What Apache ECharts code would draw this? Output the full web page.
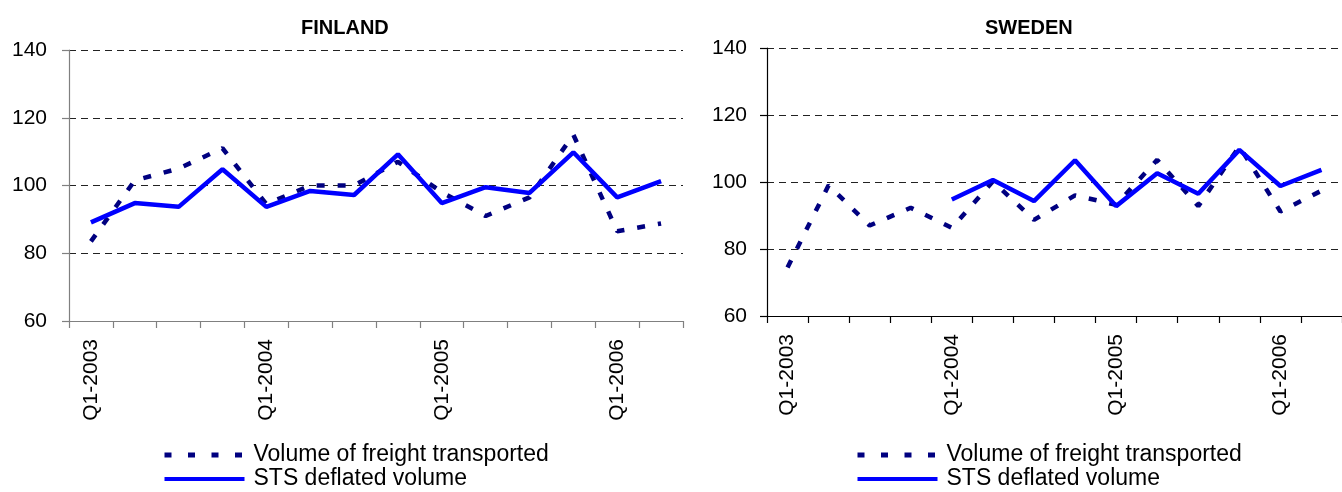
<!DOCTYPE html>
<html>
<head>
<meta charset="utf-8">
<script src="https://cdn.jsdelivr.net/npm/echarts@6/dist/echarts.min.js"></script>
<style>
html,body{margin:0;padding:0;background:#fff;}
#c{width:1342px;height:492px;}
</style>
</head>
<body>
<div id="c"></div>
<script>
var categories = ['Q1-2003','Q2-2003','Q3-2003','Q4-2003','Q1-2004','Q2-2004','Q3-2004','Q4-2004','Q1-2005','Q2-2005','Q3-2005','Q4-2005','Q1-2006','Q2-2006'];
var finFreight = [83.5, 101.5, 105, 111, 94.5, 100, 100, 107, 98, 91, 96.5, 115, 86.5, 88.8];
var finSTS = [89.1, 94.8, 93.7, 104.8, 93.7, 98.4, 97.2, 109.2, 94.8, 99.5, 97.8, 109.8, 96.5, 101.3];
var sweFreight = [74.5, 99, 87, 92.3, 86.3, 100.2, 88.7, 96, 93.2, 106.6, 92.8, 110.6, 91.2, 97.4];
var sweSTS = [null, null, null, null, 94.8, 100.6, 94.3, 106.5, 92.8, 102.6, 96.5, 109.6, 98.8, 103.6];
var titles = ['FINLAND', 'SWEDEN'];
var seriesNames = ['Volume of freight transported', 'STS deflated volume'];
var yTicks = {min: 60, max: 140, interval: 20};

var FONT = "'Liberation Sans', Arial, sans-serif";
var chart = echarts.init(document.getElementById('c'));

function xAxis(gi, color) {
  return {
    type: 'category', gridIndex: gi, data: categories, boundaryGap: true,
    axisLine: {lineStyle: {color: color, width: 1.2}},
    axisTick: {show: true, interval: 0, length: 7, lineStyle: {color: color, width: 1.2}},
    axisLabel: {interval: 3, rotate: 90, margin: 18, color: '#000', fontSize: 21, fontFamily: FONT},
    splitLine: {show: false}
  };
}
function yAxis(gi, color, margin) {
  return {
    type: 'value', gridIndex: gi, min: yTicks.min, max: yTicks.max, interval: yTicks.interval,
    axisLine: {show: true, lineStyle: {color: color, width: 1.2}},
    axisTick: {show: true, length: 7, lineStyle: {color: color, width: 1.2}},
    axisLabel: {margin: margin, color: '#000', fontSize: 21, fontFamily: FONT},
    splitLine: {show: true, lineStyle: {color: '#222', width: 1, type: [7, 5]}}
  };
}
var freightStyle = {color: '#000080', width: 4.5, type: [8, 13], cap: 'butt'};
var stsStyle = {color: '#0000FF', width: 4.5, type: 'solid'};

function mk(name, xi, data, ls, z) {
  return {
    name: name, type: 'line', xAxisIndex: xi, yAxisIndex: xi, data: data,
    showSymbol: false, symbol: 'none', connectNulls: false, animation: false,
    lineStyle: ls, itemStyle: {color: ls.color}, z: z
  };
}

function legend(left) {
  return {
    orient: 'vertical', left: left, top: 443, itemGap: 0, padding: 0,
    itemWidth: 80, itemHeight: 24,
    itemStyle: {opacity: 0},
    data: [
      {name: seriesNames[0], lineStyle: {color: '#000080', width: 5, type: [7, 16.5], cap: 'butt'}},
      {name: seriesNames[1], lineStyle: {color: '#0000FF', width: 4, type: 'solid'}}
    ],
    textStyle: {fontSize: 23, fontFamily: FONT, color: '#000', lineHeight: 24, padding: [0, 0, 0, 4]},
    selectedMode: false
  };
}

chart.setOption({
  backgroundColor: '#fff',
  animation: false,
  title: [
    {text: titles[0], left: 301, top: 18, padding: 0, textStyle: {fontSize: 20, fontWeight: 'bold', fontFamily: FONT, color: '#000'}},
    {text: titles[1], left: 985, top: 18, padding: 0, textStyle: {fontSize: 20, fontWeight: 'bold', fontFamily: FONT, color: '#000'}}
  ],
  legend: [legend(162), legend(855)],
  grid: [
    {left: 69, top: 50, width: 614, height: 271},
    {left: 767, top: 48, width: 577, height: 268}
  ],
  xAxis: [xAxis(0, '#808080'), xAxis(1, '#000')],
  yAxis: [yAxis(0, '#808080', 22), yAxis(1, '#000', 20)],
  series: [
    mk(seriesNames[0], 0, finFreight, freightStyle, 2),
    mk(seriesNames[1], 0, finSTS, stsStyle, 3),
    mk(seriesNames[0], 1, sweFreight, freightStyle, 2),
    mk(seriesNames[1], 1, sweSTS, stsStyle, 3)
  ]
});
</script>
</body>
</html>
